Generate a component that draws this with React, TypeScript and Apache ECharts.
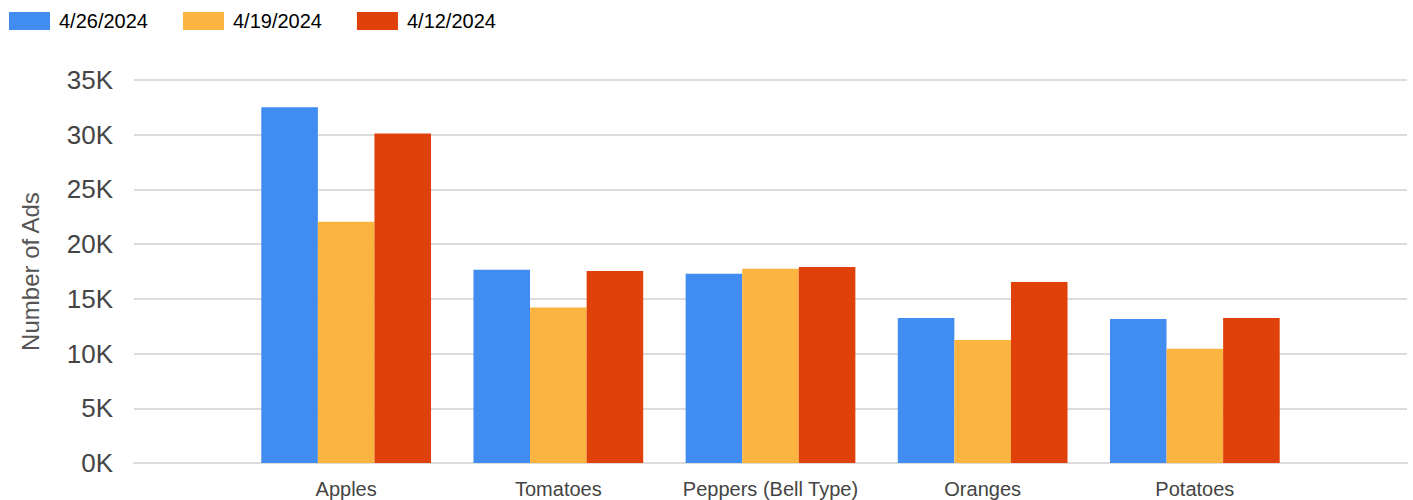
import React, { useEffect, useRef } from "react";
import * as echarts from "echarts";

const categories = ["", "Apples", "Tomatoes", "Peppers (Bell Type)", "Oranges", "Potatoes", ""];
const seriesNames = ["4/26/2024", "4/19/2024", "4/12/2024"];
const week0426 = [null, 32500, 17650, 17300, 13250, 13150, null];
const week0419 = [null, 22050, 14200, 17750, 11250, 10450, null];
const week0412 = [null, 30100, 17550, 17900, 16550, 13250, null];
const colors = ["#418cf0", "#fcb441", "#e0400a"];
const yTicks = { min: 0, max: 35000, interval: 5000 };

export default function App() {
  const ref = useRef<HTMLDivElement>(null);
  useEffect(() => {
    const chart = echarts.init(ref.current!, undefined, { renderer: "svg" });
    const font = "Arial, 'Liberation Sans', sans-serif";
    const values = [week0426, week0419, week0412];
    chart.setOption({
      animation: false,
      textStyle: { fontFamily: font },
      legend: {
        left: 9,
        top: 11,
        padding: 0,
        itemWidth: 41,
        itemHeight: 18,
        itemGap: 35,
        icon: "rect",
        textStyle: { fontSize: 20, color: "#000", fontFamily: font, padding: [0, 0, 0, 4] },
        data: seriesNames,
      },
      grid: { left: 134, right: 6, top: 80, bottom: 37, containLabel: false },
      xAxis: {
        type: "category",
        data: categories,
        boundaryGap: false,
        axisLine: { show: true, lineStyle: { color: "#dcdcdc", width: 2 } },
        axisTick: { show: false },
        axisLabel: { fontSize: 20, color: "#444", margin: 16, fontFamily: font, interval: 0 },
        splitLine: { show: false },
      },
      yAxis: {
        type: "value",
        min: yTicks.min,
        max: yTicks.max,
        interval: yTicks.interval,
        name: "Number of Ads",
        nameLocation: "middle",
        nameGap: 92,
        nameTextStyle: { fontSize: 24, color: "#555", fontFamily: font },
        axisLine: { show: false },
        axisTick: { show: false },
        axisLabel: {
          fontSize: 26,
          color: "#444",
          margin: 21,
          fontFamily: font,
          formatter: (v: number) => `${v / 1000}K`,
        },
        splitLine: { show: true, lineStyle: { color: "#dcdcdc", width: 2 } },
      },
      series: seriesNames.map((name, i) => ({
        name,
        type: "bar",
        data: values[i],
        barGap: "0%",
        barCategoryGap: "20%",
        itemStyle: { color: colors[i] },
      })),
    });
    return () => chart.dispose();
  }, []);
  return (
    <div
      ref={ref}
      style={{ position: "absolute", left: 0, top: 0, width: 1413, height: 500 }}
    />
  );
}
